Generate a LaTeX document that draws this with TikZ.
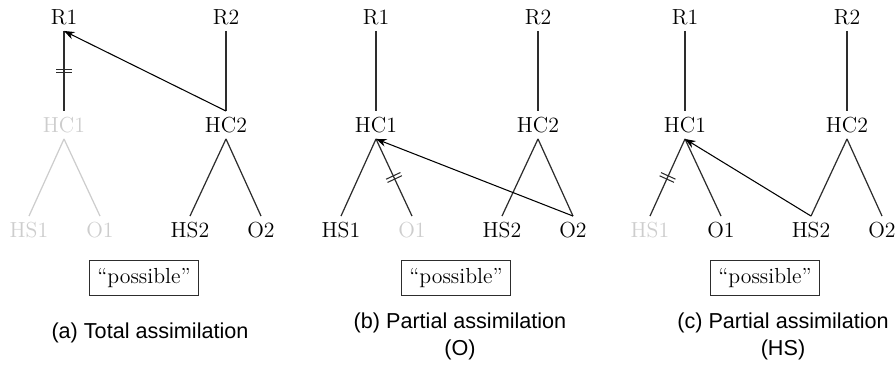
\documentclass[tikz,border=0pt]{standalone}
\usepackage{fontspec}
\usetikzlibrary{arrows.meta,decorations.markings}
\newfontfamily\capfont{Liberation Sans}
\definecolor{faded}{RGB}{205,205,205}
\definecolor{edgecol}{RGB}{45,45,45}

\begin{document}
\begin{tikzpicture}[x=0.02cm, y=-0.02cm,
  lab/.style={font=\fontsize{12.4}{14}\selectfont, text height=8.5pt, text depth=0pt, inner sep=3.5pt},
  dim/.style={lab, text=faded},
  edge/.style={draw=edgecol, line width=0.7pt},
  dimedge/.style={draw=faded, line width=0.7pt},
  move/.style={draw=black, line width=0.6pt, -{Stealth[length=6pt,width=4.5pt]}},
  cutmark/.style={postaction={decorate}, decoration={markings,
    mark=at position 0.5 with {\draw[edgecol, line width=0.6pt] (-1pt,-4.5pt) -- (-1pt,4.5pt) (1pt,-4.5pt) -- (1pt,4.5pt);}}},
  verdict/.style={draw=edgecol, line width=0.6pt, font=\fontsize{12.4}{14}\selectfont, inner sep=4.3pt},
  caption/.style={font=\capfont\fontsize{12.3}{15.3}\selectfont, align=center}]
\useasboundingbox (0,0) rectangle (896,365);

% two syllables in every panel
\foreach \p/\dx/\hc/\hs/\o in {a/0/dim/dim/dim, b/312/lab/lab/dim, c/621/lab/dim/lab} {
  \node[lab] (\p R1) at (64+\dx,17) {R1};
  \node[lab] (\p R2) at (226+\dx,17) {R2};
  \node[\hc] (\p HC1) at (64+\dx,125) {HC1};
  \node[lab] (\p HC2) at (226+\dx,125) {HC2};
  \node[\hs] (\p HS1) at (29+\dx,230) {HS1};
  \node[\o] (\p O1) at (100+\dx,230) {O1};
  \node[lab] (\p HS2) at (190+\dx,230) {HS2};
  \node[lab] (\p O2) at (261+\dx,230) {O2};
  \node[verdict] (\p box) at (144+\dx,278) {“possible”};
  \draw[edge] (\p R2.south) -- (\p HC2.north);
  \draw[edge] (\p HC2.south) -- (\p HS2.north);
  \draw[edge] (\p HC2.south) -- (\p O2.north);
}

% (a) total
\draw[edge, cutmark] (aR1.south) -- (aHC1.north);
\draw[dimedge] (aHC1.south) -- (aHS1.north);
\draw[dimedge] (aHC1.south) -- (aO1.north);
\draw[move] (aHC2.north) -- (aR1.south);

% (b) partial, O
\draw[edge] (bR1.south) -- (bHC1.north);
\draw[edge] (bHC1.south) -- (bHS1.north);
\draw[edge, cutmark] (bHC1.south) -- (bO1.north);
\draw[move] (bO2.north) -- (bHC1.south);

% (c) partial, HS
\draw[edge] (cR1.south) -- (cHC1.north);
\draw[edge, cutmark] (cHC1.south) -- (cHS1.north);
\draw[edge] (cHC1.south) -- (cO1.north);
\draw[move] (cHS2.north) -- (cHC1.south);

\node[caption] (capa) at (150,333) {(a) Total assimilation};
\node[caption] (capb) at (460,336) {(b) Partial assimilation\\(O)};
\node[caption] (capc) at (783,336) {(c) Partial assimilation\\(HS)};
\end{tikzpicture}
\end{document}
